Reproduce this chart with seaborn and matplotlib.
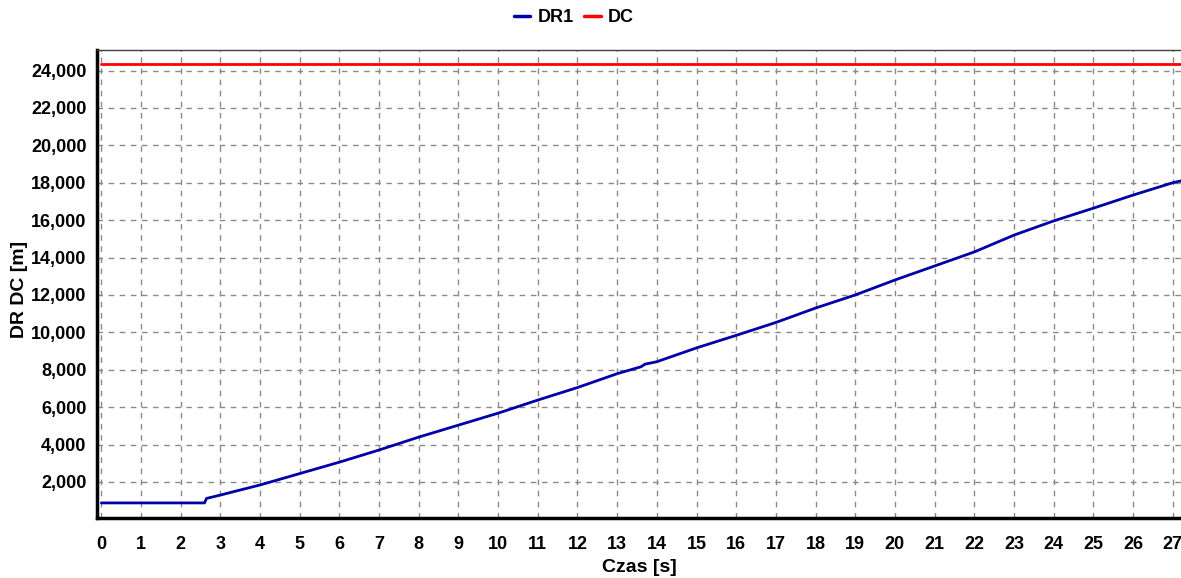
import matplotlib
matplotlib.use("Agg")
import matplotlib.pyplot as plt
import matplotlib.ticker as mticker
from matplotlib.lines import Line2D
import seaborn as sns
import pandas as pd

# ---- data ----
dr1_time = [0, 2.6, 2.65, 3, 4, 5, 6, 7, 8, 9, 10, 11, 12, 13, 13.6, 13.7, 14, 15, 16, 17,
            18, 19, 20, 21, 22, 23, 24, 25, 26, 27, 27.21]
dr1_vals = [880, 880, 1120, 1300, 1840, 2450, 3060, 3710, 4400, 5040, 5680, 6380, 7050, 7790,
            8160, 8300, 8430, 9170, 9840, 10530, 11300, 12000, 12800, 13550, 14300, 15200,
            15960, 16640, 17340, 18000, 18100]
dc_time = [0, 27.21]
dc_vals = [24340, 24340]
series_names = ["DR1", "DC"]
x_ticks = list(range(0, 28))
y_ticks = list(range(2000, 24001, 2000))

df = pd.concat([
    pd.DataFrame({"t": dr1_time, "v": dr1_vals, "s": series_names[0]}),
    pd.DataFrame({"t": dc_time, "v": dc_vals, "s": series_names[1]}),
], ignore_index=True)

sns.set_theme(style="white")
plt.rcParams["font.family"] = ["Liberation Sans", "DejaVu Sans"]
plt.rcParams["font.weight"] = "bold"
plt.rcParams["text.color"] = "black"
plt.rcParams["axes.labelcolor"] = "black"
plt.rcParams["xtick.color"] = "black"
plt.rcParams["ytick.color"] = "black"

fig = plt.figure(figsize=(11.81, 5.78), dpi=100)
ax = fig.add_axes([97 / 1181, (578 - 517.5) / 578, (1181 - 97) / 1181, (517.5 - 50) / 578])

sns.lineplot(data=df, x="t", y="v", hue="s", hue_order=series_names,
             palette={"DR1": "#0000A8", "DC": "#FF0000"}, linewidth=2.0,
             ax=ax, legend=False, estimator=None, sort=False)

ax.set_xlim(-0.11, 27.21)
ax.set_ylim(100, 25100)
ax.set_xticks(x_ticks)
ax.set_yticks(y_ticks)
ax.xaxis.set_minor_locator(mticker.MultipleLocator(0.25))
ax.yaxis.set_minor_locator(mticker.MultipleLocator(500))
ax.yaxis.set_major_formatter(mticker.FuncFormatter(lambda v, p: f"{v:,.0f}"))

ax.grid(True, which="major", color="#8a8a8a", linestyle=(0, (4, 4)), linewidth=1.0)
ax.set_axisbelow(True)

for side in ["left", "bottom"]:
    ax.spines[side].set_color("black")
    ax.spines[side].set_linewidth(2.5)
ax.spines["top"].set_color("#404040")
ax.spines["top"].set_linewidth(1.0)
ax.spines["right"].set_visible(False)

ax.tick_params(axis="both", which="major", direction="out", length=5, width=1.0,
               color="#303030", labelsize=13, labelcolor="black")
ax.tick_params(axis="x", which="major", pad=8)
ax.tick_params(axis="y", which="major", pad=2.5)
ax.tick_params(axis="both", which="minor", direction="out", length=3, width=0.8,
               color="#505050")
for lab in ax.get_xticklabels() + ax.get_yticklabels():
    lab.set_fontweight("bold")

ax.set_xlabel("Czas [s]", fontsize=14, fontweight="bold", labelpad=5, color="black")
ax.set_ylabel("DR DC [m]", fontsize=14, fontweight="bold", color="black")
ax.yaxis.set_label_coords((28 - 97) / 1084, 0.487)

handles = [Line2D([], [], color="#0000A8", linewidth=2.5),
           Line2D([], [], color="#FF0000", linewidth=2.5)]
fig.legend(handles, series_names, loc="center", bbox_to_anchor=(574 / 1181, 1 - 18 / 578),
           ncol=2, frameon=False, handlelength=0.9, handletextpad=0.4, columnspacing=0.6,
           prop={"weight": "bold", "size": 13}, labelcolor="black")

fig.savefig("out.png", dpi=100)
